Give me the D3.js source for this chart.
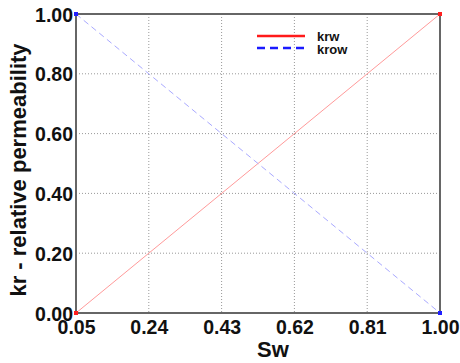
<!DOCTYPE html>
<html>
<head>
<meta charset="utf-8">
<script src="https://cdn.jsdelivr.net/npm/d3@7/dist/d3.min.js"></script>
<style>
  body { margin: 0; background: #fff; }
  text { font-family: "Liberation Sans", Arial, sans-serif; font-weight: bold; fill: #111; }
</style>
</head>
<body>
<div id="chart"></div>
<script>
// data
const sw = [0.05, 1.00];
const krw = [0.0, 1.0];
const krow = [1.0, 0.0];
const xTicks = [0.05, 0.24, 0.43, 0.62, 0.81, 1.00];
const yTicks = [0.0, 0.2, 0.4, 0.6, 0.8, 1.0];
const seriesNames = ["krw", "krow"];

const width = 460, height = 363;
const margin = { top: 14, right: 20, bottom: 50, left: 76 };
const iw = width - margin.left - margin.right,
      ih = height - margin.top - margin.bottom;

const svg = d3.select("#chart").append("svg")
  .attr("width", width)
  .attr("height", height);

const g = svg.append("g")
  .attr("transform", `translate(${margin.left},${margin.top})`);

const x = d3.scaleLinear().domain([0.05, 1.00]).range([0, iw]);
const y = d3.scaleLinear().domain([0, 1]).range([ih, 0]);

// grid
g.selectAll(".vgrid").data(xTicks.slice(1, -1)).enter().append("line")
  .attr("x1", d => x(d)).attr("x2", d => x(d))
  .attr("y1", 0).attr("y2", ih)
  .attr("stroke", "#999").attr("stroke-width", 1).attr("stroke-dasharray", "1,2");
g.selectAll(".hgrid").data(yTicks.slice(1, -1)).enter().append("line")
  .attr("y1", d => y(d)).attr("y2", d => y(d))
  .attr("x1", 0).attr("x2", iw)
  .attr("stroke", "#999").attr("stroke-width", 1).attr("stroke-dasharray", "1,2");

// axes
const xAxis = g.append("g")
  .attr("transform", `translate(0,${ih})`)
  .call(d3.axisBottom(x).tickValues(xTicks).tickFormat(d3.format(".2f")).tickSize(0));
const yAxis = g.append("g")
  .call(d3.axisLeft(y).tickValues(yTicks).tickFormat(d3.format(".2f")).tickSize(0).tickPadding(3));
[xAxis, yAxis].forEach(a => {
  a.select(".domain").remove();
  a.selectAll("text").style("font-size", "19.5px").style("font-family", "'Liberation Sans', Arial, sans-serif")
    .style("font-weight", "bold").attr("fill", "#111");
});
xAxis.selectAll("text").attr("y", 21).attr("dy", null);
yAxis.selectAll("text").attr("dy", "0.36em");

// lines
const line = d3.line().x(d => x(d[0])).y(d => y(d[1]));
g.append("path")
  .datum(sw.map((s, i) => [s, krw[i]]))
  .attr("d", line).attr("fill", "none")
  .attr("stroke", "#ff9a9a").attr("stroke-width", 1);
g.append("path")
  .datum(sw.map((s, i) => [s, krow[i]]))
  .attr("d", line).attr("fill", "none")
  .attr("stroke", "#a9a9ff").attr("stroke-width", 1).attr("stroke-dasharray", "6,4");

// frame
g.append("rect")
  .attr("width", iw).attr("height", ih)
  .attr("fill", "none").attr("stroke", "#666").attr("stroke-width", 2);

// end markers
g.selectAll(".mkw").data(sw).enter().append("rect")
  .attr("x", (d) => x(d) - 2).attr("y", (d, i) => y(krw[i]) - 2)
  .attr("width", 4).attr("height", 4).attr("fill", "#ff2020");
g.selectAll(".mko").data(sw).enter().append("rect")
  .attr("x", (d) => x(d) - 2).attr("y", (d, i) => y(krow[i]) - 2)
  .attr("width", 4).attr("height", 4).attr("fill", "#2020ff");

// legend
const legend = svg.append("g").attr("transform", "translate(257,36)");
legend.append("line").attr("x1", 0).attr("x2", 48).attr("y1", 0).attr("y2", 0)
  .attr("stroke", "#ff1a1a").attr("stroke-width", 2.5);
legend.append("line").attr("x1", 0).attr("x2", 48).attr("y1", 12).attr("y2", 12)
  .attr("stroke", "#1a1aff").attr("stroke-width", 2.5).attr("stroke-dasharray", "8,5");
legend.selectAll("text").data(seriesNames).enter().append("text")
  .attr("x", 60).attr("y", (d, i) => i * 13 + 5)
  .style("font-size", "13px")
  .text(d => d);

// axis titles
svg.append("text")
  .attr("x", 273).attr("y", 357)
  .attr("text-anchor", "middle")
  .style("font-size", "22px")
  .text("Sw");
svg.append("text")
  .attr("transform", "translate(26,170) rotate(-90)")
  .attr("text-anchor", "middle")
  .style("font-size", "22px")
  .text("kr - relative permeability");
</script>
</body>
</html>
